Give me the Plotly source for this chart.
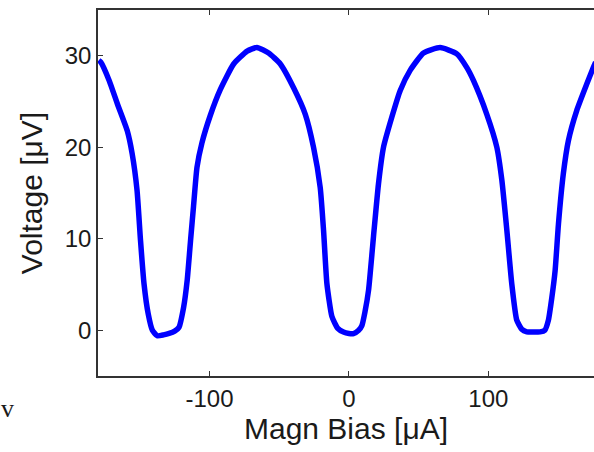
import plotly.graph_objects as go

bias_uA = [-179.5, -178, -172, -166, -159, -155.5, -152, -149.5, -147, -144,
           -141, -137.5, -133, -129, -125, -122, -118.6, -116, -113.5, -111.5,
           -109, -105.4, -99.4, -92.3, -82.7, -73, -66, -57.6, -49.2, -39.7,
           -31.3, -25.4, -20.6, -18.2, -15.8, -12.2, -8, -3.9, 0, 3.3,
           7, 9.3, 11.5, 14.1, 17.6, 21.2, 24.8, 30.8, 36.8, 43.9,
           53.5, 65.4, 77.4, 84.6, 89.3, 98.9, 106.1, 109.7, 113.3, 116.8,
           120.4, 124, 127.6, 132, 137.1, 140.5, 143.1, 145.5, 147.9, 150.3,
           153.8, 157.4, 163.4, 170.6, 175.3, 177]
voltage_uV = [29.5, 29.3, 27.3, 24.7, 21.8, 19.3, 15.3, 9.8, 5.1, 1.8,
              0.0, -0.6, -0.5, -0.35, -0.1, 0.3, 2.5, 5.5, 10, 13.5,
              17.8, 20.5, 23.5, 26.3, 29.1, 30.5, 30.9, 30.3, 29.1, 26.5,
              23.6, 20, 15.6, 10.9, 5.1, 1.5, 0.2, -0.2, -0.35, -0.36,
              0.0, 0.5, 2, 4.4, 10.2, 16, 20, 23.3, 26.2, 28.4,
              30.3, 30.9, 30.2, 28.7, 27.3, 23.6, 20, 16.4, 10.9, 5.1,
              1.1, 0.1, -0.18, -0.2, -0.18, 0.0, 1.1, 3.5, 6.5, 11.6,
              17.1, 20.7, 24, 26.9, 28.7, 29.3]

x_ticks = [-100, 0, 100]
x_tick_labels = ["-100", "0", "100"]
y_ticks = [0, 10, 20, 30]
y_tick_labels = ["0", "10", "20", "30"]

FONT = "Liberation Sans, Arial, sans-serif"
TXT = "#1a1a1a"

fig = go.Figure()
fig.add_trace(go.Scatter(
    x=bias_uA, y=voltage_uV, mode="lines",
    line=dict(color="#0000ff", width=5.5, shape="spline", smoothing=0.5),
    showlegend=False,
))

fig.update_layout(
    width=594, height=452,
    margin=dict(l=98, r=0, t=10, b=76),
    paper_bgcolor="white", plot_bgcolor="white",
    font=dict(family=FONT, color=TXT),
    xaxis=dict(
        range=[-180, 175.8], tickvals=x_ticks, ticktext=x_tick_labels,
        ticks="inside", ticklen=5, tickcolor="#333", tickwidth=1,
        showline=True, linecolor="#333", linewidth=1.5, mirror="ticks",
        showgrid=False, zeroline=False,
        tickfont=dict(size=24, family=FONT, color=TXT),
        title=dict(text="Magn Bias [μA]", font=dict(size=30, family=FONT, color=TXT), standoff=4),
    ),
    yaxis=dict(
        range=[-5, 35], tickvals=y_ticks, ticktext=y_tick_labels,
        ticks="inside", ticklen=5, tickcolor="#333", tickwidth=1,
        showline=True, linecolor="#333", linewidth=1.5, mirror=False,
        showgrid=False, zeroline=False,
        tickfont=dict(size=24, family=FONT, color=TXT),
        title=dict(text="Voltage [μV]", font=dict(size=30, family=FONT, color=TXT), standoff=13),
    ),
)

fig.add_annotation(
    text="v", xref="paper", yref="paper", x=-0.2, y=-0.09,
    xanchor="left", yanchor="middle", showarrow=False,
    font=dict(family="Liberation Serif, serif", size=26, color=TXT),
)

fig.write_html(
    "out.html",
    config={"displayModeBar": False},
    post_script="document.body.style.margin='0';document.body.style.overflow='hidden';",
)
